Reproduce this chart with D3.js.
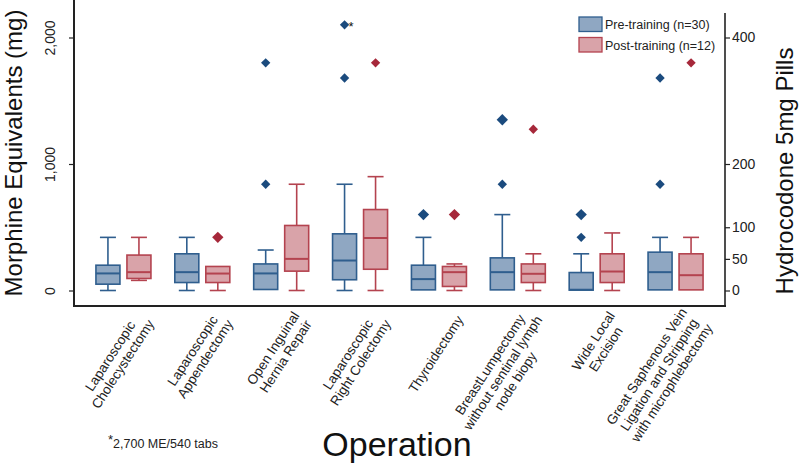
<!DOCTYPE html>
<html>
<head>
<meta charset="utf-8">
<script src="https://cdn.jsdelivr.net/npm/d3@7"></script>
<style>
  html, body { margin: 0; padding: 0; background: #fff; }
  svg { display: block; font-family: "Liberation Sans", Arial, Helvetica, sans-serif; }
</style>
</head>
<body>
<svg id="chart" width="800" height="465"></svg>
<script>
// ---------------- DATA ----------------
const categories = [
  ["Laparoscopic", "Cholecystectomy"],
  ["Laparoscopic", "Appendectomy"],
  ["Open Inguinal", "Hernia Repair"],
  ["Laparoscopic", "Right Colectomy"],
  ["Thyroidectomy"],
  ["BreastLumpectomy", "without sentinal lymph", "node biopy"],
  ["Wide Local", "Excision"],
  ["Great Saphenous Vein", "Ligation and Stripping", "with microphlebectomy"]
];
const seriesNames = ["Pre-training (n=30)", "Post-training (n=12)"];

// [lower whisker, Q1, median, Q3, upper whisker] in morphine equivalents (mg)
const preStats = [
  [0, 50, 135, 200, 420],
  [0, 63, 145, 290, 420],
  [8, 8, 135, 210, 320],
  [0, 85, 237, 448, 840],
  [5, 5, 90, 200, 420],
  [5, 5, 145, 258, 600],
  [3, 3, 6, 142, 290],
  [5, 5, 145, 303, 420]
];
const postStats = [
  [80, 95, 145, 280, 420],
  [0, 63, 134, 190, 190],
  [0, 153, 250, 514, 840],
  [0, 168, 415, 640, 900],
  [0, 32, 145, 190, 210],
  [0, 63, 132, 210, 290],
  [0, 63, 150, 290, 455],
  [5, 5, 121, 290, 420]
];
// outliers (repeated values = overlapping patients)
const preOutliers = [
  [], [], [1800, 840], [2100, 1680], [600, 600], [1350, 1350, 840], [600, 600, 420], [1680, 840]
];
const postOutliers = [
  [], [420, 420], [], [1800], [600, 600], [1275], [], [1800]
];
const truncatedOutlier = { category: 3, series: "pre", value: 2100, mark: "*" };
const footnote = "2,700 ME/540 tabs";

const leftTicks = [0, 1000, 2000];
const rightTicksPills = [0, 50, 100, 200, 400];
const mePerPill = 5;

// ---------------- STYLE ----------------
const colors = {
  pre:  { fill: "#8fa7c2", stroke: "#2f5e8e", dot: "#1b4b7e" },
  post: { fill: "#d9a3a9", stroke: "#b4434f", dot: "#a6283a" }
};

// ---------------- CHART ----------------
const svg = d3.select("#chart");
const axisColor = "#222";

const x = d3.scaleBand().domain(d3.range(categories.length)).range([84, 715]).padding(0);
const sub = d3.scalePoint().domain(["pre", "post"]).range([-15.5, 15.5]);
const y = d3.scaleLinear().domain([0, 2000]).range([290.5, 37.5]);

const boxW = 24, capW = 16;
const cx = i => x(i) + x.bandwidth() / 2;

const seriesData = [
  { key: "pre", stats: preStats, outliers: preOutliers },
  { key: "post", stats: postStats, outliers: postOutliers }
];

seriesData.forEach(s => {
  const c = colors[s.key];
  const g = svg.append("g");
  s.stats.forEach((st, i) => {
    const [lo, q1, med, q3, hi] = st;
    const xc = cx(i) + sub(s.key);
    const gg = g.append("g").attr("stroke", c.stroke).attr("stroke-width", 1.6).attr("fill", "none");
    if (hi > q3) {
      gg.append("line").attr("x1", xc).attr("x2", xc).attr("y1", y(q3)).attr("y2", y(hi));
      gg.append("line").attr("x1", xc - capW / 2).attr("x2", xc + capW / 2).attr("y1", y(hi)).attr("y2", y(hi));
    }
    if (lo < q1) {
      gg.append("line").attr("x1", xc).attr("x2", xc).attr("y1", y(q1)).attr("y2", y(lo));
      gg.append("line").attr("x1", xc - capW / 2).attr("x2", xc + capW / 2).attr("y1", y(lo)).attr("y2", y(lo));
    }
    gg.append("rect")
      .attr("x", xc - boxW / 2).attr("width", boxW)
      .attr("y", y(q3)).attr("height", Math.max(1, y(q1) - y(q3)))
      .attr("fill", c.fill);
    gg.append("line").attr("x1", xc - boxW / 2).attr("x2", xc + boxW / 2)
      .attr("y1", y(med)).attr("y2", y(med)).attr("stroke-width", 2);
  });
  s.outliers.forEach((arr, i) => {
    const counts = d3.rollup(arr, v => v.length, d => d);
    const xc = cx(i) + sub(s.key);
    counts.forEach((n, v) => {
      const side = n > 1 ? 8 : 6.6;
      g.append("path")
        .attr("d", d3.symbol(d3.symbolSquare, side * side)())
        .attr("transform", `translate(${xc},${y(v)}) rotate(45)`)
        .attr("fill", c.dot);
    });
  });
});

// asterisk on truncated outlier
svg.append("text")
  .attr("x", cx(truncatedOutlier.category) + sub(truncatedOutlier.series) + 4)
  .attr("y", y(truncatedOutlier.value) + 6)
  .attr("font-size", 13).attr("fill", "#111").text(truncatedOutlier.mark);

// axes frame lines
svg.append("line").attr("x1", 74).attr("x2", 74).attr("y1", 0).attr("y2", 306.5)
  .attr("stroke", axisColor).attr("stroke-width", 2);
svg.append("line").attr("x1", 73).attr("x2", 726).attr("y1", 306).attr("y2", 306)
  .attr("stroke", axisColor).attr("stroke-width", 2);
svg.append("line").attr("x1", 725).attr("x2", 725).attr("y1", 13).attr("y2", 306.5)
  .attr("stroke", axisColor).attr("stroke-width", 1.6);

// left axis
const gl = svg.append("g").attr("transform", "translate(74,0)")
  .call(d3.axisLeft(y).tickValues(leftTicks).tickFormat(d3.format(",")).tickSize(5).tickSizeOuter(0));
gl.select(".domain").remove();
gl.selectAll(".tick line").attr("stroke", axisColor).attr("stroke-width", 1.2);
gl.selectAll(".tick text")
  .attr("x", null).attr("dy", null)
  .attr("transform", "translate(-19,0) rotate(-90)")
  .attr("text-anchor", "middle")
  .attr("font-size", 14).attr("font-family", null).attr("fill", "#222");

// right axis
const gr = svg.append("g").attr("transform", "translate(725,0)")
  .call(d3.axisRight(y).tickValues(rightTicksPills.map(p => p * mePerPill))
    .tickFormat(v => d3.format("d")(v / mePerPill)).tickSize(5).tickPadding(2).tickSizeOuter(0));
gr.select(".domain").remove();
gr.selectAll(".tick line").attr("stroke", axisColor).attr("stroke-width", 1.2);
gr.selectAll(".tick text").attr("font-size", 14).attr("font-family", null).attr("fill", "#222");

// x labels
const lh = 15;
categories.forEach((lines, i) => {
  const g = svg.append("g").attr("font-size", 13.5).attr("fill", "#222");
  const texts = lines.map((t, k) =>
    g.append("text").attr("text-anchor", "middle").attr("y", (k - (lines.length - 1) / 2) * lh)
      .attr("dy", "0.35em").text(t));
  const maxW = d3.max(texts, t => t.node().getComputedTextLength());
  texts.forEach(t => t.attr("x", -maxW / 2));
  g.attr("transform", `translate(${cx(i) + 21},317) rotate(-57)`);
});

// axis titles
svg.append("text").attr("transform", "translate(22,153) rotate(-90)")
  .attr("text-anchor", "middle").attr("font-size", 24).attr("fill", "#111")
  .text("Morphine Equivalents (mg)");
svg.append("text").attr("transform", "translate(793,171) rotate(-90)")
  .attr("text-anchor", "middle").attr("font-size", 24).attr("fill", "#111")
  .text("Hydrocodone 5mg Pills");
svg.append("text").attr("x", 397).attr("y", 456)
  .attr("text-anchor", "middle").attr("font-size", 34).attr("fill", "#111")
  .text("Operation");

// footnote
const fn = svg.append("text").attr("x", 108).attr("y", 448).attr("font-size", 12.5).attr("fill", "#222");
fn.append("tspan").attr("dy", -4).attr("font-size", 13).text("*");
fn.append("tspan").attr("dy", 4).text(footnote);

// legend
const legend = svg.append("g");
["pre", "post"].forEach((k, i) => {
  const yy = 17 + i * 20.5;
  legend.append("rect").attr("x", 579).attr("y", yy).attr("width", 23).attr("height", 14.5)
    .attr("fill", colors[k].fill).attr("stroke", colors[k].stroke).attr("stroke-width", 1.3);
  legend.append("text").attr("x", 605).attr("y", yy + 12).attr("font-size", 12.5).attr("fill", "#222")
    .text(seriesNames[i]);
});
</script>
</body>
</html>
